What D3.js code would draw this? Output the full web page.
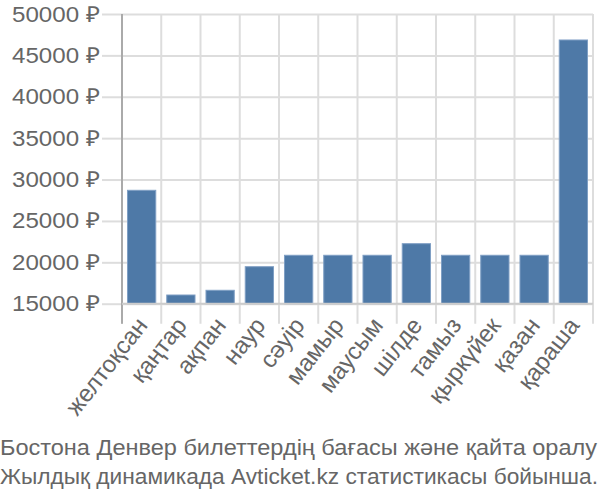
<!DOCTYPE html>
<html><head><meta charset="utf-8">
<script src="https://cdn.jsdelivr.net/npm/d3@7"></script>
<style>body{margin:0;background:#fff}svg{display:block}text{font-family:"Liberation Sans",Arial,sans-serif;fill:#666}</style>
</head><body>
<svg id="c" width="600" height="500"></svg>
<script>
const months = ["желтоқсан","қаңтар","ақпан","наур","сәуір","мамыр","маусым","шілде","тамыз","қыркүйек","қазан","қараша"];
const prices = [28700,16050,16620,19470,20850,20850,20850,22250,20850,20850,20850,46860];
const yTicks = [15000,20000,25000,30000,35000,40000,45000,50000];
const captionLines = ["Бостона Денвер билеттердің бағасы және қайта оралу","Жылдық динамикада Avticket.kz статистикасы бойынша."];

const svg = d3.select("#c");
const L = 122, R = 593, T = 14, B = 303.7;
const x = d3.scaleBand().domain(months).range([L, R]).padding(0);
const y = d3.scaleLinear().domain([15000, 50000]).range([B, T]);

// horizontal grid + y labels
const yg = svg.append("g").attr("transform", `translate(${L},0)`)
  .call(d3.axisLeft(y).tickValues(yTicks).tickSize(20).tickFormat(d => d + " ₽").tickPadding(2));
yg.select(".domain").remove();
yg.selectAll(".tick line").attr("stroke", "#ddd").attr("stroke-width", 2);
yg.selectAll(".tick").append("line").attr("x1", 0).attr("x2", R - L).attr("stroke", "#ddd").attr("stroke-width", 2);
yg.selectAll(".tick text").attr("font-size", 22).attr("textLength", 88).attr("lengthAdjust", "spacingAndGlyphs").style("fill", "#666");

// vertical grid
const xg = svg.append("g").attr("transform", `translate(0,${B})`);
const edges = months.map(m => x(m)).concat([R]);
xg.selectAll("line").data(edges).join("line")
  .attr("x1", d => d).attr("x2", d => d).attr("y1", -(B - T)).attr("y2", 20)
  .attr("stroke", "#ddd").attr("stroke-width", 2);

// y axis line
svg.append("line").attr("x1", L).attr("x2", L).attr("y1", T).attr("y2", B + 20).attr("stroke", "#aaa").attr("stroke-width", 2);

// bars
const bw = x.bandwidth() * 0.72;
svg.append("g").selectAll("rect").data(months).join("rect")
  .attr("x", d => x(d) + (x.bandwidth() - bw) / 2)
  .attr("width", bw)
  .attr("y", (d, i) => y(prices[i]))
  .attr("height", (d, i) => B - y(prices[i]))
  .attr("fill", "#4e79a7").attr("stroke", "#7f9fc4").attr("stroke-width", 1);

// x axis baseline
svg.append("line").attr("x1", L).attr("x2", R).attr("y1", B).attr("y2", B).attr("stroke", "#ccc").attr("stroke-width", 2);

// x labels
svg.append("g").selectAll("text").data(months).join("text")
  .attr("transform", d => `translate(${x(d) + x.bandwidth() / 2 + 7},${B + 22}) rotate(-52)`)
  .attr("text-anchor", "end").attr("font-size", 24).text(d => d);

// caption
svg.append("g").selectAll("text").data(captionLines).join("text")
  .attr("x", 0).attr("y", (d, i) => 455 + i * 29)
  .attr("font-size", 22).attr("textLength", (d, i) => i === 0 ? 597 : 598)
  .attr("lengthAdjust", "spacingAndGlyphs").text(d => d);
</script>
</body></html>
